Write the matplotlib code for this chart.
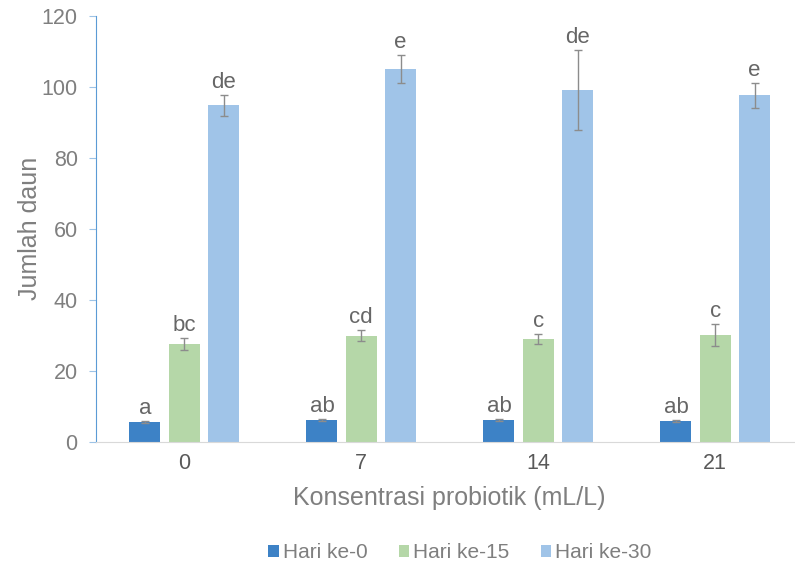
import numpy as np
import matplotlib.pyplot as plt

plt.rcParams['font.family'] = ['Liberation Sans', 'DejaVu Sans']

konsentrasi = ['0', '7', '14', '21']
seri = ['Hari ke-0', 'Hari ke-15', 'Hari ke-30']
nilai = [
    [5.6, 6.1, 6.1, 5.85],
    [27.5, 29.9, 28.9, 30.1],
    [94.8, 105.0, 99.2, 97.6],
]
galat = [
    [0.2, 0.2, 0.2, 0.2],
    [1.75, 1.6, 1.4, 3.1],
    [3.0, 3.9, 11.2, 3.4],
]
huruf = [
    ['a', 'ab', 'ab', 'ab'],
    ['bc', 'cd', 'c', 'c'],
    ['de', 'e', 'de', 'e'],
]
warna = ['#3d82c6', '#b5d7a8', '#a0c4e8']

fig = plt.figure(figsize=(7.95, 5.67), dpi=100)
ax = fig.add_axes([95.7 / 795, 1 - 441.7 / 567, (803.8 - 95.7) / 795, (441.7 - 16) / 567])

x = np.arange(len(konsentrasi))
lebar = 0.175
jarak = 0.222
for i in range(3):
    pos = x + (i - 1) * jarak
    ax.bar(pos, nilai[i], lebar, color=warna[i], label=seri[i], zorder=2)
    ax.errorbar(pos, nilai[i], yerr=galat[i], fmt='none', ecolor='#8c8c8c',
                elinewidth=1, capsize=3, capthick=1, zorder=3)
    for j in range(len(x)):
        ax.annotate(huruf[i][j], (pos[j], nilai[i][j] + galat[i][j]),
                    xytext=(0, 1.5), textcoords='offset points',
                    ha='center', va='bottom', fontsize=16, color='#666666')

ax.set_xlim(-0.5, 3.5)
ax.set_ylim(0, 120)
ax.set_yticks(np.arange(0, 121, 20))
ax.set_xticks(x)
ax.set_xticklabels(konsentrasi)
ax.tick_params(axis='x', length=0, labelsize=15.5, labelcolor='#595959', pad=8)
ax.tick_params(axis='y', length=5, color='#9dc3e6', labelsize=15.5, labelcolor='#7f7f7f', pad=8)

for s in ['top', 'right']:
    ax.spines[s].set_visible(False)
ax.spines['left'].set_color('#5b9bd5')
ax.spines['bottom'].set_color('#d9d9d9')

ax.set_ylabel('Jumlah daun', fontsize=18, color='#7f7f7f', labelpad=0)
ax.set_xlabel('Konsentrasi probiotik (mL/L)', fontsize=18, color='#7f7f7f', labelpad=9)

fig.legend(loc='center', bbox_to_anchor=(460 / 795, 1 - 553 / 567), ncol=3,
           frameon=False, fontsize=15, labelcolor='#7f7f7f',
           handlelength=0.5, handleheight=0.5, handletextpad=0.2, columnspacing=1.5)

fig.savefig('out.png', dpi=100)
